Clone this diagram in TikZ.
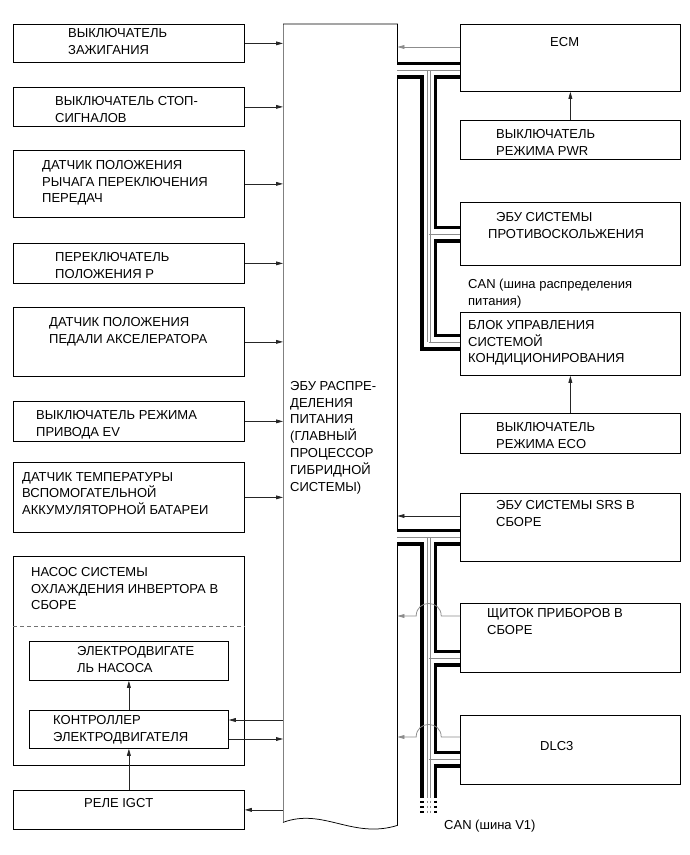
\documentclass[tikz,border=0pt]{standalone}
\usepackage{fontspec}
\setmainfont{Liberation Sans}
\usetikzlibrary{arrows.meta,calc}
\begin{document}
\begin{tikzpicture}[x=1pt,y=-1pt,
  box/.style={draw=black, line width=0.75pt, anchor=north west, inner sep=0pt},
  txt/.style={anchor=north west, inner sep=0pt, align=left, font=\fontsize{13}{16.8}\selectfont},
  arr/.style={draw=black!85, line width=0.75pt, -{Triangle[length=7pt,width=3.8pt]}},
  garr/.style={arr, draw=black!45},
  busblack/.style={draw=black, line width=17pt},
  buswhite/.style={draw=white, line width=9.6pt},
  busthin/.style={draw=black!45, line width=0.6pt}]
\useasboundingbox[fill=white] (0,0) rectangle (690,855);

% ---------- left column ----------
\node[box, minimum width=231pt, minimum height=38pt] (b1) at (13,24) {};
\node[box, minimum width=231pt, minimum height=39pt] (b2) at (13,87) {};
\node[box, minimum width=231pt, minimum height=67pt] (b3) at (13,150) {};
\node[box, minimum width=231pt, minimum height=40pt] (b4) at (13,243) {};
\node[box, minimum width=231pt, minimum height=69pt] (b5) at (13,307) {};
\node[box, minimum width=231pt, minimum height=40pt] (b6) at (13,401) {};
\node[box, minimum width=231pt, minimum height=70pt] (b7) at (13,462) {};
\node[box, minimum width=231pt, minimum height=209pt] (b8) at (13,556) {};
\node[box, minimum width=199pt, minimum height=39pt] (motor) at (29,641) {};
\node[box, minimum width=199pt, minimum height=38pt] (ctrl) at (29,710) {};
\node[box, minimum width=231pt, minimum height=39pt] (relay) at (13,790) {};

\node[txt] (t1) at (68,28) {ВЫКЛЮЧАТЕЛЬ\\ЗАЖИГАНИЯ};
\node[txt] (t2) at (55,96) {ВЫКЛЮЧАТЕЛЬ СТОП-\\СИГНАЛОВ};
\node[txt] (t3) at (42,160) {ДАТЧИК ПОЛОЖЕНИЯ\\РЫЧАГА ПЕРЕКЛЮЧЕНИЯ\\ПЕРЕДАЧ};
\node[txt] (t4) at (55,252) {ПЕРЕКЛЮЧАТЕЛЬ\\ПОЛОЖЕНИЯ Р};
\node[txt] (t5) at (49,317) {ДАТЧИК ПОЛОЖЕНИЯ\\ПЕДАЛИ АКСЕЛЕРАТОРА};
\node[txt] (t6) at (36,410) {ВЫКЛЮЧАТЕЛЬ РЕЖИМА\\ПРИВОДА EV};
\node[txt] (t7) at (22,472) {ДАТЧИК ТЕМПЕРАТУРЫ\\ВСПОМОГАТЕЛЬНОЙ\\АККУМУЛЯТОРНОЙ БАТАРЕИ};
\node[txt] (t8) at (31,567) {НАСОС СИСТЕМЫ\\ОХЛАЖДЕНИЯ ИНВЕРТОРА В\\СБОРЕ};
\node[txt] (tm) at (77,646) {ЭЛЕКТРОДВИГАТЕ\\ЛЬ НАСОСА};
\node[txt] (tc) at (53,715) {КОНТРОЛЛЕР\\ЭЛЕКТРОДВИГАТЕЛЯ};
\node[txt] (tr) at (84,798) {РЕЛЕ IGCT};

\draw[black!55, line width=0.6pt, dash pattern=on 4pt off 3pt] (b8.west |- 0,626) -- (b8.east |- 0,626);

% ---------- central unit ----------
\node[anchor=north west, inner sep=0pt, minimum width=114pt, minimum height=798pt] (cen) at (283,24) {};
\draw[line width=0.75pt, draw=black!50] (cen.south west) -- (cen.north west);
\draw[line width=0.75pt] (cen.north west) -- (cen.north east) -- ($(cen.south east)+(0,3)$)
  .. controls ($(cen.south east)+(-45,17)$) and ($(cen.south west)+(40,-15)$) .. (cen.south west);
\node[txt] (tcen) at (290,381) {ЭБУ РАСПРЕ-\\ДЕЛЕНИЯ\\ПИТАНИЯ\\(ГЛАВНЫЙ\\ПРОЦЕССОР\\ГИБРИДНОЙ\\СИСТЕМЫ)};

% ---------- right column ----------
\node[box, minimum width=220pt, minimum height=67pt] (ecm) at (460,24) {};
\node[box, minimum width=220pt, minimum height=39pt] (pwr) at (460,120) {};
\node[box, minimum width=220pt, minimum height=63pt] (prot) at (460,202) {};
\node[box, minimum width=220pt, minimum height=63pt] (blok) at (460,312) {};
\node[box, minimum width=220pt, minimum height=40pt] (eco) at (460,413) {};
\node[box, minimum width=220pt, minimum height=68pt] (srs) at (460,493) {};
\node[box, minimum width=220pt, minimum height=69pt] (shch) at (460,603) {};
\node[box, minimum width=220pt, minimum height=69pt] (dlc) at (460,715) {};

\node[txt] (tecm) at (550,37) {ECM};
\node[txt] (tpwr) at (496,129) {ВЫКЛЮЧАТЕЛЬ\\РЕЖИМА PWR};
\node[txt] (tprot) at (488,212) {\hspace*{8pt}ЭБУ СИСТЕМЫ\\ПРОТИВОСКОЛЬЖЕНИЯ};
\node[txt] (tblok) at (468,320) {БЛОК УПРАВЛЕНИЯ\\СИСТЕМОЙ\\КОНДИЦИОНИРОВАНИЯ};
\node[txt] (teco) at (496,422) {ВЫКЛЮЧАТЕЛЬ\\РЕЖИМА ECO};
\node[txt] (tsrs) at (496,500) {ЭБУ СИСТЕМЫ SRS В\\СБОРЕ};
\node[txt] (tshch) at (487,608) {ЩИТОК ПРИБОРОВ В\\СБОРЕ};
\node[txt] (tdlc) at (540,741) {DLC3};
\node[txt] (can1) at (468,279) {CAN (шина распределения\\питания)};
\node[txt] (can2) at (444,820) {CAN (шина V1)};

% ---------- left arrows ----------
\foreach \b in {b1,b2,b3,b4,b5,b6,b7}{
  \draw[arr] (\b.east) -- (\b.east -| cen.west);
}
\coordinate (c1) at (0,720);
\coordinate (c2) at (0,739);
\draw[arr] (cen.west |- c1) -- (ctrl.east |- c1);
\draw[arr] (ctrl.east |- c2) -- (cen.west |- c2);
\draw[arr] (cen.west |- relay.east) -- (relay.east);
\draw[arr] (relay.north) -- (ctrl.south);
\draw[arr] (ctrl.north) -- (motor.south);

% ---------- right arrows ----------
\draw[arr] (pwr.north) -- (ecm.south);
\draw[arr] (eco.north) -- (blok.south);
\coordinate (e1) at ($(ecm.north west)+(0,23)$);
\draw[garr] (e1) -- (e1 -| cen.east);
\coordinate (s1) at ($(srs.north west)+(0,23)$);
\draw[arr] (s1) -- (s1 -| cen.east);

% ---------- CAN buses ----------
\coordinate (tA) at (428.7,0);
\coordinate (ya) at (0,70);
\coordinate (yb) at (0,234);
\coordinate (yc) at (0,342);
\coordinate (ys) at (0,537);
\coordinate (yh) at (0,658);
\coordinate (yd) at (0,759);
\coordinate (ye) at (0,798);
\coordinate (yf) at (0,800.5);
\coordinate (yg) at (0,815);

\foreach \st in {busblack,buswhite}{
  \draw[\st] (cen.east |- ya) -- (ecm.west |- ya)
             (tA |- ya) -- (tA |- yc) -- (blok.west |- yc)
             (tA |- yb) -- (prot.west |- yb);
  \draw[\st] (cen.east |- ys) -- (srs.west |- ys)
             (tA |- ys) -- (tA |- ye)
             (tA |- yh) -- (shch.west |- yh)
             (tA |- yd) -- (dlc.west |- yd);
}
\draw[busblack, dash pattern=on 2.3pt off 2.7pt] (tA |- yf) -- (tA |- yg);
\draw[buswhite] (tA |- ye) -- (tA |- yg);

\draw[busthin] (cen.east |- ya) -- (ecm.west |- ya);
\draw[busthin] ($(tA |- ya)+(-1.2,0)$) -- ($(tA |- yc)+(-1.2,0)$);
\draw[busthin] ($(tA |- ya)+(1.2,0)$) -- ($(tA |- yc)+(1.2,0)$);
\draw[busthin] (tA |- yb) -- (prot.west |- yb);
\draw[busthin] (tA |- yc) -- (blok.west |- yc);

\draw[busthin] (cen.east |- ys) -- (srs.west |- ys);
\draw[busthin] ($(tA |- ys)+(-1.2,0)$) -- ($(tA |- ye)+(-1.2,0)$);
\draw[busthin] ($(tA |- ys)+(1.2,0)$) -- ($(tA |- ye)+(1.2,0)$);
\draw[busthin, dash pattern=on 2.3pt off 2.7pt] ($(tA |- yf)+(-1.2,0)$) -- ($(tA |- yg)+(-1.2,0)$);
\draw[busthin, dash pattern=on 2.3pt off 2.7pt] ($(tA |- yf)+(1.2,0)$) -- ($(tA |- yg)+(1.2,0)$);
\draw[busthin] (tA |- yh) -- (shch.west |- yh);
\draw[busthin] (tA |- yd) -- (dlc.west |- yd);

% ---------- hopping arrows ----------
\coordinate (h1) at ($(shch.north west)+(0,13)$);
\coordinate (h2) at ($(dlc.north west)+(0,22)$);
\foreach \h in {h1,h2}{
  \draw[garr] (\h) -- ($(\h -| tA)+(12.5,0)$)
     .. controls +(0,-16.7) and +(0,-16.7) .. ($(\h -| tA)+(-12.5,0)$)
     -- (\h -| cen.east);
}
\end{tikzpicture}
\end{document}
